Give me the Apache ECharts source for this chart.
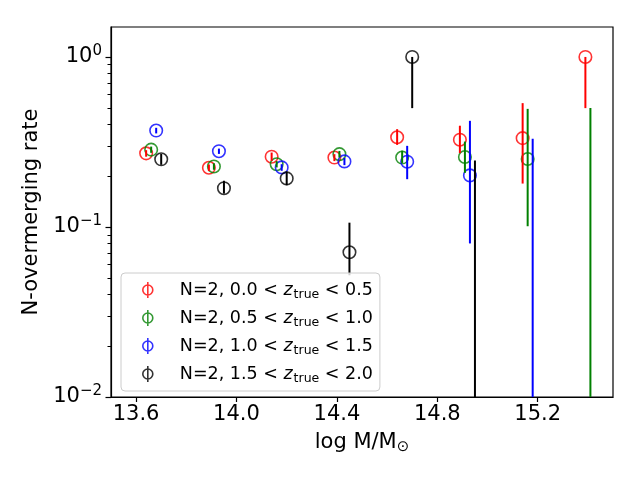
<!DOCTYPE html>
<html>
<head>
<meta charset="utf-8">
<script src="https://cdn.jsdelivr.net/npm/echarts@6/dist/echarts.min.js"></script>
<style>
  html, body { margin: 0; padding: 0; background: #fff; }
  #chart { width: 640px; height: 480px; }
</style>
</head>
<body>
<div id="chart"></div>
<script>
// redshift bins, one series each
const zBins = [["0.0", "0.5"], ["0.5", "1.0"], ["1.0", "1.5"], ["1.5", "2.0"]];
const colors = ["#ff0000", "#008000", "#0000ff", "#000000"];

// log M/Msun positions per series
const massA = [13.64, 13.89, 14.14, 14.39, 14.64, 14.89, 15.14, 15.39];
const massB = [13.66, 13.91, 14.16, 14.41, 14.66, 14.91, 15.16, 15.41];
const massC = [13.68, 13.93, 14.18, 14.43, 14.68, 14.93, 15.18];
const massD = [13.70, 13.95, 14.20, 14.45, 14.70, 14.95];

// rates (0 = nothing drawn on the log axis)
const rateA = [0.271, 0.223, 0.259, 0.256, 0.337, 0.326, 0.333, 1.0];
const rateB = [0.285, 0.227, 0.234, 0.268, 0.256, 0.258, 0.251, 0];
const rateC = [0.369, 0.279, 0.224, 0.243, 0.242, 0.201, 0];
const rateD = [0.250, 0.169, 0.193, 0.071, 1.0, 0];

// error bar ends (lower / upper)
const lowA = [0.259, 0.213, 0.244, 0.244, 0.304, 0.272, 0.180, 0.50];
const highA = [0.283, 0.233, 0.274, 0.268, 0.376, 0.394, 0.535, 1.0];
const lowB = [0.273, 0.217, 0.224, 0.256, 0.238, 0.208, 0.101, 0];
const highB = [0.297, 0.237, 0.244, 0.280, 0.281, 0.318, 0.495, 0.50];
const lowC = [0.355, 0.269, 0.214, 0.231, 0.191, 0.080, 0];
const highC = [0.383, 0.289, 0.234, 0.255, 0.300, 0.421, 0.330];
const lowD = [0.232, 0.157, 0.176, 0.052, 0.50, 0];
const highD = [0.269, 0.187, 0.212, 0.106, 1.0, 0.246];

const xTicks = [13.6, 14.0, 14.4, 14.8, 15.2];
const yTicks = [0.01, 0.1, 1];
const yMinor = [0.02, 0.03, 0.04, 0.05, 0.06, 0.07, 0.08, 0.09,
                0.2, 0.3, 0.4, 0.5, 0.6, 0.7, 0.8, 0.9];

const masses = [massA, massB, massC, massD];
const rates = [rateA, rateB, rateC, rateD];
const lows = [lowA, lowB, lowC, lowD];
const highs = [highA, highB, highC, highD];

const Y_MIN = 0.01;
const Y_MAX = 1.5;
const FONT = "DejaVu Sans";
const GRID = { left: 111, right: 27, top: 27, bottom: 83 };

const names = zBins.map(b => "N=2, " + b[0] + " < z_true < " + b[1]);
const legendText = {};
zBins.forEach((b, i) => {
  legendText[names[i]] = "{n|N=2, " + b[0] + " < }{z|z}{sub|true}{t| < " + b[1] + "}";
});

const iconPath = "path://M5,0 A5,5 0 1,1 -5,0 A5,5 0 1,1 5,0 Z M0,-8 L0,8";

const series = [];
names.forEach((name, i) => {
  series.push({
    name: name,
    type: "scatter",
    symbol: "circle",
    symbolSize: 12.5,
    z: 2,
    itemStyle: { color: "rgba(0,0,0,0)", borderColor: colors[i], borderWidth: 1.6 },
    emphasis: { disabled: true },
    data: masses[i].map((m, k) => (rates[i][k] > 0 ? [m, rates[i][k]] : null)).filter(d => d)
  });
  series.push({
    name: name,
    type: "custom",
    z: 3,
    clip: true,
    renderItem: function (params, api) {
      let lo = api.value(1);
      if (!(lo > Y_MIN)) lo = Y_MIN;
      const p1 = api.coord([api.value(0), lo]);
      const p2 = api.coord([api.value(0), api.value(2)]);
      return {
        type: "line",
        shape: { x1: p1[0], y1: p1[1], x2: p2[0], y2: p2[1] },
        style: { stroke: colors[i], lineWidth: 2 }
      };
    },
    data: masses[i].map((m, k) => [m, lows[i][k], highs[i][k]])
  });
});

const chart = echarts.init(document.getElementById("chart"), null, { renderer: "canvas" });

chart.setOption({
  animation: false,
  backgroundColor: "#fff",
  textStyle: { fontFamily: FONT },
  grid: Object.assign({
    show: true, borderColor: "#000", borderWidth: 1.2, backgroundColor: "transparent"
  }, GRID),
  legend: {
    orient: "vertical",
    left: 121,
    top: 273,
    padding: [8, 7, 6, 21],
    itemWidth: 10,
    itemHeight: 16,
    itemGap: 8,
    backgroundColor: "rgba(255,255,255,0.8)",
    borderColor: "#cccccc",
    borderWidth: 1,
    borderRadius: 4,
    selectedMode: false,
    data: names.map((n, i) => ({
      name: n,
      icon: iconPath,
      itemStyle: { color: "rgba(0,0,0,0)", borderColor: colors[i], borderWidth: 1.6 }
    })),
    formatter: n => legendText[n],
    textStyle: {
      fontFamily: FONT,
      color: "#000",
      fontSize: 17.5,
      rich: {
        n: { fontFamily: FONT, fontSize: 17.5, color: "#000", padding: [0, 0, 0, 22] },
        z: { fontFamily: FONT, fontSize: 17.5, color: "#000", fontStyle: "italic" },
        sub: { fontFamily: FONT, fontSize: 12.5, color: "#000", padding: [9, 0, 0, 1] },
        t: { fontFamily: FONT, fontSize: 17.5, color: "#000" }
      }
    }
  },
  xAxis: {
    type: "value",
    min: 13.5,
    max: 15.5,
    name: "log M/M{s|⊙}",
    nameLocation: "middle",
    nameGap: 33,
    nameTextStyle: {
      fontFamily: FONT, fontSize: 21, color: "#000",
      rich: { s: { fontFamily: FONT, fontSize: 15, color: "#000", padding: [10, 0, 0, 0] } }
    },
    axisLine: { show: true, onZero: false, lineStyle: { color: "#000", width: 1.2 } },
    axisTick: { show: true, length: 5, customValues: xTicks, lineStyle: { color: "#000", width: 1.2 } },
    axisLabel: {
      customValues: xTicks,
      margin: 7,
      fontFamily: FONT, fontSize: 21, color: "#000",
      formatter: v => v.toFixed(1)
    },
    splitLine: { show: false }
  },
  yAxis: [
    {
      type: "log",
      logBase: 10,
      min: Y_MIN,
      max: Y_MAX,
      name: "N-overmerging rate",
      nameLocation: "middle",
      nameGap: 66,
      nameTextStyle: { fontFamily: FONT, fontSize: 21, color: "#000" },
      axisLine: { show: true, lineStyle: { color: "#000", width: 1.2 } },
      axisTick: { show: true, length: 5.5, customValues: yTicks, lineStyle: { color: "#000", width: 1.2 } },
      axisLabel: {
        customValues: yTicks,
        margin: 9,
        fontFamily: FONT, fontSize: 21, color: "#000",
        formatter: v => {
          const e = Math.round(Math.log10(v));
          return "{b|10}{sup|" + (e < 0 ? "\u2212" + (-e) : e) + "}";
        },
        rich: {
          b: { fontFamily: FONT, fontSize: 21, color: "#000" },
          sup: { fontFamily: FONT, fontSize: 15, color: "#000", padding: [0, 0, 12, 0] }
        }
      },
      splitLine: { show: false }
    },
    {
      // minor ticks: a second log axis moved onto the left edge
      // (a second "left" axis would be pushed to the right side)
      type: "log",
      logBase: 10,
      min: Y_MIN,
      max: Y_MAX,
      position: "right",
      offset: -(640 - GRID.left - GRID.right),
      axisLine: { show: false },
      axisTick: { show: true, inside: true, length: 3.5, customValues: yMinor, lineStyle: { color: "#000", width: 1 } },
      axisLabel: { show: false },
      splitLine: { show: false }
    }
  ],
  series: series
});
</script>
</body>
</html>
